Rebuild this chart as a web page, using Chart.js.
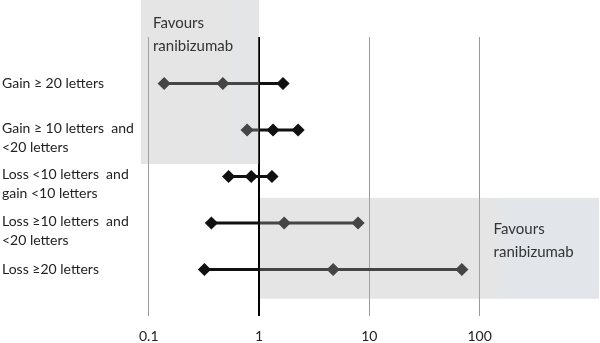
<!DOCTYPE html>
<html>
<head>
<meta charset="utf-8">
<script src="https://cdn.jsdelivr.net/npm/chart.js@4/dist/chart.umd.min.js"></script>
<style>
  html, body { margin: 0; padding: 0; background: #fff; }
  #wrap { width: 600px; height: 343px; }
</style>
</head>
<body>
<div id="wrap"><canvas id="myChart"></canvas></div>
<script>
// Outcome rows (top to bottom)
const outcomes = [
  'Gain \u2265 20 letters',
  ['Gain \u2265 10 letters  and', '<20 letters'],
  ['Loss <10 letters  and', 'gain <10 letters'],
  ['Loss \u226510 letters  and', '<20 letters'],
  'Loss \u226520 letters'
];
// odds ratios
const lower    = [0.138, 0.78, 0.53, 0.37, 0.32];
const estimate = [0.47, 1.34, 0.85, 1.69, 4.7];
const upper    = [1.65, 2.26, 1.31, 7.9, 69];
const xTicks   = [0.1, 1, 10, 100];
const favourLeft  = ['Favours', 'ranibizumab'];
const favourRight = ['Favours', 'ranibizumab'];

const FONT = 'Lato, "Open Sans", sans-serif';

// one line dataset per outcome row
const datasets = outcomes.map((o, i) => ({
  data: [
    { x: lower[i], y: i + 1 },
    { x: estimate[i], y: i + 1 },
    { x: upper[i], y: i + 1 }
  ],
  borderColor: '#111',
  backgroundColor: '#111',
  borderWidth: 3,
  pointStyle: 'rectRot',
  pointRadius: 4.5,
  pointHoverRadius: 4.5,
  showLine: true,
  tension: 0
}));

// shaded "favours" boxes, drawn over the lines with some transparency
const shadePlugin = {
  id: 'shade',
  afterDatasetsDraw(chart) {
    const ctx = chart.ctx;
    const xs = chart.scales.x, ys = chart.scales.y;
    const x1 = xs.getPixelForValue(1);

    // left box: from the left edge of the plot to 1
    const lx = chart.chartArea.left;
    const ly0 = 0, ly1 = ys.getPixelForValue(2.73);
    let g = ctx.createLinearGradient(lx, 0, x1, 0);
    g.addColorStop(0, 'rgba(176,176,176,0.33)');
    g.addColorStop(0.6, 'rgba(176,176,176,0.33)');
    g.addColorStop(1, 'rgba(172,176,182,0.33)');
    ctx.save();
    ctx.fillStyle = g;
    ctx.fillRect(lx, ly0, x1 - lx, ly1 - ly0);

    // right box: from 1 to the right edge
    const rx1 = chart.chartArea.right;
    const ry0 = ys.getPixelForValue(3.46), ry1 = ys.getPixelForValue(5.63);
    g = ctx.createLinearGradient(x1, 0, rx1, 0);
    g.addColorStop(0, 'rgba(176,176,176,0.33)');
    g.addColorStop(0.68, 'rgba(176,176,176,0.33)');
    g.addColorStop(0.75, 'rgba(167,179,191,0.33)');
    g.addColorStop(1, 'rgba(167,179,191,0.33)');
    ctx.fillStyle = g;
    ctx.fillRect(x1 + 1, ry0, rx1 - x1 - 1, ry1 - ry0);

    // labels in the boxes
    ctx.fillStyle = '#333';
    ctx.font = '15px ' + FONT;
    ctx.textBaseline = 'middle';
    ctx.textAlign = 'left';
    favourLeft.forEach((t, k) => ctx.fillText(t, lx + 12, 23 + k * 23));
    const tx = xs.getPixelForValue(100) + 14;
    favourRight.forEach((t, k) => ctx.fillText(t, tx, ys.getPixelForValue(4.13) + k * 23));
    ctx.restore();
  }
};

const ctx = document.getElementById('myChart').getContext('2d');
const myChart = new Chart(ctx, {
  type: 'scatter',
  data: { datasets: datasets },
  options: {
    responsive: true,
    maintainAspectRatio: false,
    animation: false,
    layout: { autoPadding: false, padding: { top: 37, right: 1, bottom: 0, left: 2 } },
    plugins: {
      legend: { display: false },
      tooltip: { enabled: false }
    },
    scales: {
      x: {
        type: 'logarithmic',
        min: 0.0851,
        max: 1209,
        afterBuildTicks: (axis) => { axis.ticks = xTicks.map(v => ({ value: v })); },
        afterFit: (axis) => {
          axis.height = 27;
          axis.paddingLeft = 0;
          axis.paddingRight = 0;
        },
        ticks: {
          color: '#222',
          font: { family: FONT, size: 14 },
          padding: 12,
          maxRotation: 0,
          autoSkip: false,
          callback: (v) => String(v)
        },
        grid: {
          drawTicks: false,
          color: (c) => c.tick && c.tick.value === 1 ? '#000' : '#9a9a9a',
          lineWidth: (c) => c.tick && c.tick.value === 1 ? 2 : 1
        },
        border: { display: false }
      },
      y: {
        type: 'linear',
        reverse: true,
        min: 0,
        max: 6,
        // two-line labels sit a little below their row
        afterBuildTicks: (axis) => {
          axis.ticks = outcomes.map((o, i) => ({ value: i + 1 + (Array.isArray(o) ? 0.17 : 0) }));
        },
        afterFit: (axis) => { axis.width = 139; },
        ticks: {
          crossAlign: 'far',
          color: '#222',
          font: { family: FONT, size: 14, lineHeight: 1.36 },
          padding: 0,
          autoSkip: false,
          callback: (v) => outcomes[Math.round(v) - 1]
        },
        grid: { display: false },
        border: { display: false }
      }
    }
  },
  plugins: [shadePlugin]
});
</script>
</body>
</html>
